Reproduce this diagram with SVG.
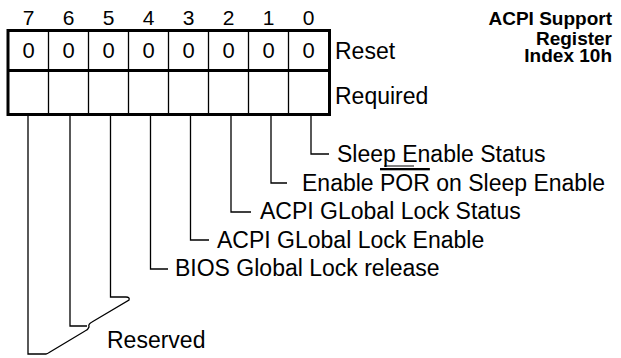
<svg xmlns="http://www.w3.org/2000/svg" width="621" height="358" viewBox="0 0 621 358">
<style>
text{font-family:"Liberation Sans",Arial,Helvetica,sans-serif;fill:#000}
.bit{font-size:21px;text-anchor:middle}
.val{font-size:22px;text-anchor:middle}
.lbl{font-size:23px}
.ttl{font-size:19px;font-weight:bold;text-anchor:end}
.thick{fill:none;stroke:#000;stroke-width:3}
.thin{fill:none;stroke:#000;stroke-width:1.3}
.wire{fill:none;stroke:#000;stroke-width:1.3}
</style>
<rect width="621" height="358" fill="#fff"/>
<g id="title">
<text class="ttl" x="612" y="25">ACPI Support</text>
<text class="ttl" x="612" y="44.5">Register</text>
<text class="ttl" x="612" y="62">Index 10h</text>
</g>
<g id="bit-numbers">
<text class="bit" x="28.5" y="25">7</text>
<text class="bit" x="68.5" y="25">6</text>
<text class="bit" x="108.5" y="25">5</text>
<text class="bit" x="148.5" y="25">4</text>
<text class="bit" x="188.5" y="25">3</text>
<text class="bit" x="228.5" y="25">2</text>
<text class="bit" x="268.5" y="25">1</text>
<text class="bit" x="308.5" y="25">0</text>
</g>
<g id="register">
<path class="thin" d="M48.5,30.5V114.5M88.5,30.5V114.5M128.5,30.5V114.5M168.5,30.5V114.5M208.5,30.5V114.5M248.5,30.5V114.5M288.5,30.5V114.5"/>
<line class="thick" x1="8" y1="70.5" x2="329.5" y2="70.5"/>
<rect class="thick" x="8" y="30.5" width="321.5" height="84"/>
<text class="val" x="28.5" y="58">0</text>
<text class="val" x="68.5" y="58">0</text>
<text class="val" x="108.5" y="58">0</text>
<text class="val" x="148.5" y="58">0</text>
<text class="val" x="188.5" y="58">0</text>
<text class="val" x="228.5" y="58">0</text>
<text class="val" x="268.5" y="58">0</text>
<text class="val" x="308.5" y="58">0</text>
<text class="lbl" x="335" y="59">Reset</text>
<text class="lbl" x="335" y="104">Required</text>
</g>
<g id="connectors">
<path class="wire" d="M311,116V154H329"/>
<path class="wire" d="M271,116V183H287"/>
<path class="wire" d="M231,116V212H251"/>
<path class="wire" d="M190.5,116V240H209"/>
<path class="wire" d="M150.5,116V269H168"/>
<path class="wire" d="M110.5,116V297H126"/>
<path class="wire" d="M70,116V326H87"/>
<path class="wire" d="M28,116V354H46"/>
<path class="wire" d="M126,297Q130,297 129,300L92,322Q88,324 89,327Q88,330 85,331L50,352Q47,354 46,354"/>
</g>
<g id="label-bit0"><text class="lbl" x="337" y="162">Sleep Enable Status</text><line x1="384" y1="166" x2="414" y2="166" stroke="#000" stroke-width="1"/></g>
<g id="label-bit1"><text class="lbl" x="302" y="191">Enable <tspan text-decoration="overline">POR</tspan> on Sleep Enable</text></g>
<g id="label-bit2"><text class="lbl" x="260" y="219">ACPI GLobal Lock Status</text></g>
<g id="label-bit3"><text class="lbl" x="217" y="248">ACPI GLobal Lock Enable</text></g>
<g id="label-bit4"><text class="lbl" x="175" y="276">BIOS Global Lock release</text></g>
<g id="label-reserved"><text class="lbl" x="107" y="348">Reserved</text></g>
</svg>
